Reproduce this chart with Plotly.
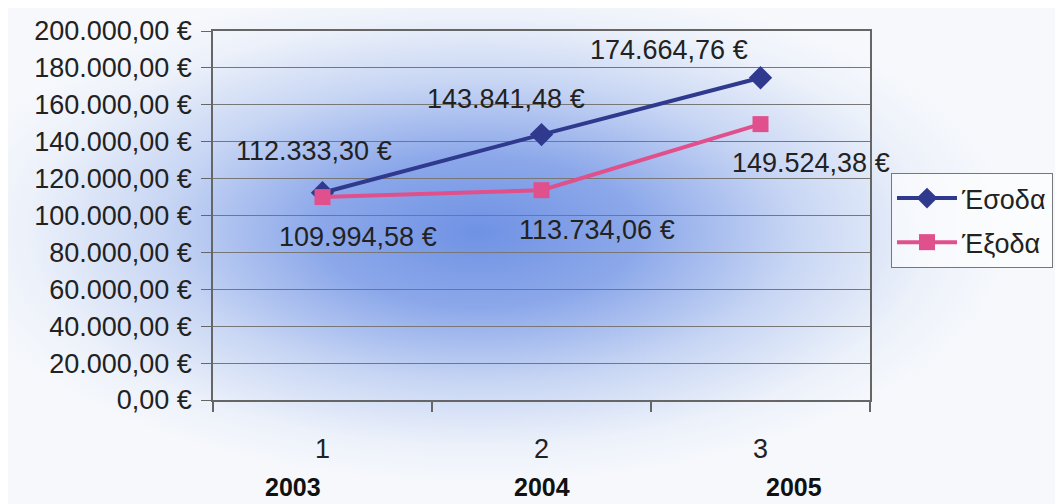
import plotly.graph_objects as go

categories = [1, 2, 3]
years = ["2003", "2004", "2005"]
income = [112333.30, 143841.48, 174664.76]
expenses = [109994.58, 113734.06, 149524.38]
income_labels = ["112.333,30 €", "143.841,48 €", "174.664,76 €"]
expense_labels = ["109.994,58 €", "113.734,06 €", "149.524,38 €"]
series_names = ["Έσοδα", "Έξοδα"]

FONT = "Liberation Sans, Arial, sans-serif"
NAVY = "#2f3a8f"
PINK = "#e0508c"
TXT = "#222"
FS = 27

# page has an 8px body margin; the figure is sized/margined to compensate
W, H = 1055, 496
L, R, T, B = 205, 193, 23, 104
PW, PH = W - L - R, H - T - B

fig = go.Figure()
fig.add_trace(go.Scatter(x=categories, y=income, name=series_names[0], mode="lines+markers",
                         legendgroup="a",
                         line=dict(color=NAVY, width=4),
                         marker=dict(symbol="diamond", size=18, color=NAVY)))
fig.add_trace(go.Scatter(x=categories, y=expenses, name=series_names[1], mode="lines+markers",
                         legendgroup="b",
                         line=dict(color=PINK, width=4),
                         marker=dict(symbol="square", size=16, color=PINK)))

inc_off = [(-9, 42), (-36, 36), (-92, 28)]
exp_off = [(35, -40), (55, -40), (50, -39)]
ann = []
for c, v, t, (dx, dy) in zip(categories, income, income_labels, inc_off):
    ann.append(dict(x=c, y=v, text=t, showarrow=False, xshift=dx, yshift=dy,
                    font=dict(family=FONT, size=FS, color=TXT)))
for c, v, t, (dx, dy) in zip(categories, expenses, expense_labels, exp_off):
    ann.append(dict(x=c, y=v, text=t, showarrow=False, xshift=dx, yshift=dy,
                    font=dict(family=FONT, size=FS, color=TXT)))
year_shift = [-30, 0, 33]
for c, yr, dx in zip(categories, years, year_shift):
    ann.append(dict(x=c, y=-87 / PH, xref="x", yref="paper", text="<b>" + yr + "</b>",
                    showarrow=False, yanchor="middle", xshift=dx,
                    font=dict(family=FONT, size=25, color="#111")))

svg = ("data:image/svg+xml;utf8,"
       "<svg xmlns='http://www.w3.org/2000/svg' width='1063' height='504' viewBox='0 0 1063 504' preserveAspectRatio='none'>"
       "<defs><radialGradient id='g' cx='0.45' cy='0.46' r='0.5' gradientUnits='objectBoundingBox'>"
       "<stop offset='0' stop-color='rgb(112,146,228)'/>"
       "<stop offset='0.3' stop-color='rgb(140,168,234)'/>"
       "<stop offset='0.6' stop-color='rgb(200,214,244)'/>"
       "<stop offset='0.85' stop-color='rgb(236,241,250)'/>"
       "<stop offset='1' stop-color='rgb(246,248,252)'/>"
       "</radialGradient></defs>"
       "<rect x='0' y='0' width='1063' height='504' fill='rgb(246,248,252)'/>"
       "<rect x='0' y='0' width='1063' height='504' fill='url(%23g)'/></svg>")

fig.update_layout(
    width=W, height=H,
    margin=dict(l=L, r=R, t=T, b=B, autoexpand=False),
    paper_bgcolor="rgb(246,248,252)", plot_bgcolor="rgba(0,0,0,0)",
    separators=",.",
    font=dict(family=FONT, size=FS, color=TXT),
    images=[dict(source=svg, xref="paper", yref="paper", x=-(L + 8) / PW, y=1 + (T + 8) / PH,
                 sizex=1063 / PW, sizey=504 / PH, sizing="stretch", layer="below",
                 xanchor="left", yanchor="top")],
    showlegend=True,
    legend=dict(x=(891 - 8 - L) / PW, y=1 - (173 - 8 - T) / PH, xanchor="left", yanchor="top",
                bgcolor="rgba(255,255,255,0.6)", bordercolor="#777", borderwidth=1,
                font=dict(family=FONT, size=FS, color=TXT), tracegroupgap=6,
                itemwidth=60),
    annotations=ann,
)
fig.update_xaxes(range=[0.5, 3.5], tickvals=categories, ticktext=[str(c) for c in categories],
                 ticks="", showgrid=False, zeroline=False,
                 showline=True, mirror=True, linecolor="#666", linewidth=1.5,
                 ticklabelstandoff=24, tickfont=dict(family=FONT, size=FS, color=TXT),
                 minor=dict(tickvals=[0.5, 1.5, 2.5, 3.5], ticks="outside", ticklen=10,
                            tickcolor="#666", tickwidth=1.5, showgrid=False))
fig.update_yaxes(range=[0, 200000], dtick=20000, tickformat=",.2f", ticksuffix=" €",
                 ticks="outside", ticklen=10, tickcolor="#666",
                 showgrid=True, gridcolor="#777", gridwidth=1, zeroline=False,
                 showline=True, mirror=True, linecolor="#666", linewidth=1.5,
                 ticklabelstandoff=4, tickfont=dict(family=FONT, size=FS, color=TXT))

fig.write_html("out.html")
